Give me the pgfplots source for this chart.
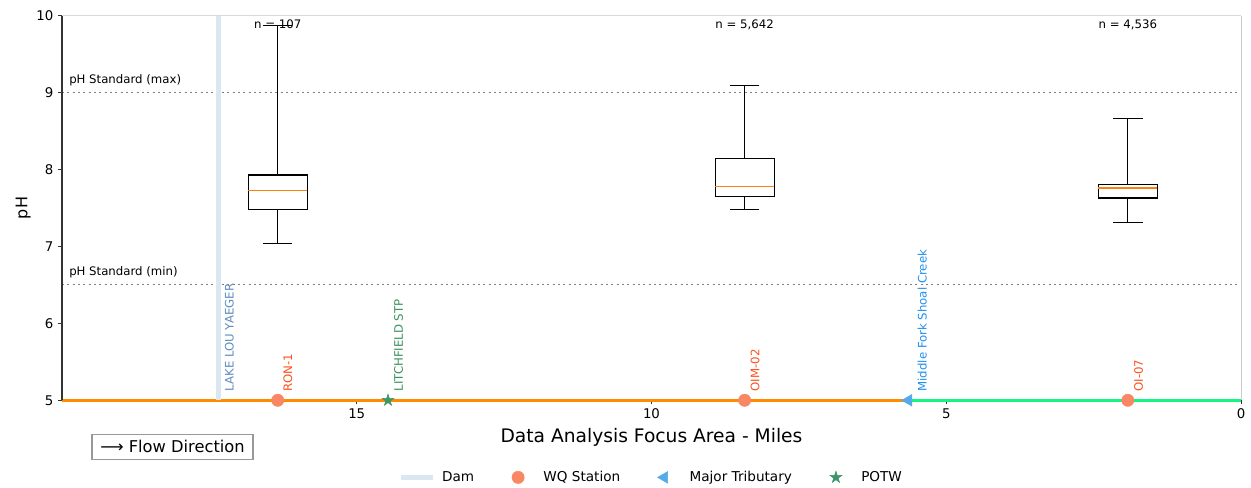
\documentclass[border=0pt]{standalone}
\usepackage{fontspec}
\setmainfont{DejaVu Sans}
\usepackage{pgfplots}
\pgfplotsset{compat=1.18}
\usepgfplotslibrary{statistics}
\definecolor{damc}{RGB}{218,230,240}
\definecolor{damtext}{RGB}{95,140,190}
\definecolor{wqfill}{RGB}{248,135,100}
\definecolor{wqtext}{RGB}{255,80,30}
\definecolor{tribc}{RGB}{85,170,235}
\definecolor{tribtext}{RGB}{30,144,240}
\definecolor{potwc}{RGB}{60,150,105}
\definecolor{potwtext}{RGB}{60,145,95}
\definecolor{riverorange}{RGB}{255,140,0}
\definecolor{rivergreen}{RGB}{20,245,130}
\definecolor{medianc}{RGB}{255,127,14}
\pgfdeclareplotmark{fstar}{%
  \pgfpathmoveto{\pgfpointpolar{90}{\pgfplotmarksize}}%
  \pgfpathlineto{\pgfpointpolar{126}{0.382\pgfplotmarksize}}%
  \pgfpathlineto{\pgfpointpolar{162}{\pgfplotmarksize}}%
  \pgfpathlineto{\pgfpointpolar{198}{0.382\pgfplotmarksize}}%
  \pgfpathlineto{\pgfpointpolar{234}{\pgfplotmarksize}}%
  \pgfpathlineto{\pgfpointpolar{270}{0.382\pgfplotmarksize}}%
  \pgfpathlineto{\pgfpointpolar{306}{\pgfplotmarksize}}%
  \pgfpathlineto{\pgfpointpolar{342}{0.382\pgfplotmarksize}}%
  \pgfpathlineto{\pgfpointpolar{18}{\pgfplotmarksize}}%
  \pgfpathlineto{\pgfpointpolar{54}{0.382\pgfplotmarksize}}%
  \pgfpathclose
  \pgfusepathqfillstroke
}
\newcommand{\legspan}{\pgfpathmoveto{\pgfpoint{0pt}{0pt}}\pgfpathlineto{\pgfpoint{29pt}{0pt}}\pgfusepath{discard}}
\pgfplotsset{
  markleg/.style={legend image code/.code={\legspan\draw[mark repeat=2,mark phase=2,##1] plot coordinates {(0pt,0pt) (12pt,0pt) (24pt,0pt)};}},
  mybox/.style={forget plot, black, line width=0.9pt},
}
\tikzset{lblfont/.style={font=\fontsize{8.8}{10}\selectfont}}
\begin{document}
\begin{tikzpicture}
\path[use as bounding box] (-46.5pt,-65.1pt) rectangle (891.75pt,300.2pt);
\begin{axis}[
  at={(0,0)}, anchor=south west,
  scale only axis, width=884.25pt, height=288.4pt,
  x dir=reverse, xmin=0, xmax=20, ymin=5, ymax=10,
  xtick={0,5,10,15}, ytick={5,6,7,8,9,10},
  tick pos=left, tick align=outside, major tick length=3pt,
  tick style={black!80, line width=0.6pt},
  axis line style={draw=none},
  clip=false,
  ticklabel style={font=\fontsize{10}{12}\selectfont},
  /pgf/number format/assume math mode=true,
  xlabel={Data Analysis Focus Area - Miles},
  ylabel={pH},
  xlabel style={font=\fontsize{14}{16}\selectfont, at={(axis description cs:0.5,-0.0712)}, anchor=north, inner sep=0pt},
  ylabel style={font=\fontsize{12}{14}\selectfont, at={(axis description cs:-0.0328,0.5)}, anchor=center, inner sep=0pt},
  legend style={at={(0.5,-0.2005)}, anchor=center, draw=none, fill=none, legend columns=4,
    font=\fontsize{10.2}{12}\selectfont,
    /tikz/every even column/.append style={column sep=19pt}},
  legend cell align=left,
]
% river lines
\addplot[forget plot, riverorange, line width=2.25pt] coordinates {(20,5) (5.64,5)};
\addplot[forget plot, rivergreen, line width=2.25pt] coordinates {(5.64,5) (0,5)};
% standards
\addplot[forget plot, gray, line width=0.8pt, dash pattern=on 1.5pt off 2.5pt] coordinates {(20,9) (0,9)};
\addplot[forget plot, gray, line width=0.8pt, dash pattern=on 1.5pt off 2.5pt] coordinates {(20,6.5) (0,6.5)};
% spines
\draw[black!15, line width=0.6pt] (axis cs:20,10) -- (axis cs:0,10);
\draw[black!20, line width=0.6pt] (axis cs:0,10) -- (axis cs:0,5);
\draw[black!80, line width=0.8pt] (axis cs:20,5) -- (axis cs:20,10);
% legend plots
\addplot[damc, line width=3.5pt, legend image code/.code={\legspan\draw[damc, line width=3.5pt] (0pt,0pt) -- (24pt,0pt);}] coordinates {(17.34,5) (17.34,10)};
\addlegendentry{Dam}
\addplot[only marks, mark=*, mark size=4.6pt, mark options={draw=wqfill, fill=wqfill}, markleg] coordinates {(16.34,5) (8.42,5) (1.92,5)};
\addlegendentry{WQ Station}
\addplot[only marks, mark=triangle*, mark size=5pt, mark options={rotate=90, draw=tribc, fill=tribc}, markleg] coordinates {(5.64,5)};
\addlegendentry{Major Tributary}
\addplot[only marks, mark=fstar, mark size=4.6pt, mark options={draw=potwc, fill=potwc}, markleg] coordinates {(14.47,5)};
\addlegendentry{POTW}
% boxplots
\addplot[mybox, boxplot prepared={draw direction=y, draw position=16.34, lower whisker=7.04, lower quartile=7.48, median=7.73, upper quartile=7.93, upper whisker=9.87, box extend=1, whisker extend=0.5, every median/.style={draw=medianc, line width=0.9pt}}] coordinates {};
\addplot[mybox, boxplot prepared={draw direction=y, draw position=8.42, lower whisker=7.48, lower quartile=7.65, median=7.78, upper quartile=8.14, upper whisker=9.09, box extend=1, whisker extend=0.5, every median/.style={draw=medianc, line width=0.9pt}}] coordinates {};
\addplot[mybox, boxplot prepared={draw direction=y, draw position=1.92, lower whisker=7.31, lower quartile=7.63, median=7.76, upper quartile=7.81, upper whisker=8.66, box extend=1, whisker extend=0.5, every median/.style={draw=medianc, line width=0.9pt}}] coordinates {};
% n labels
\node[anchor=north, inner sep=0pt, lblfont] at ([yshift=-3.2pt]axis cs:16.34,10) {n = 107};
\node[anchor=north, inner sep=0pt, lblfont] at ([yshift=-3.2pt]axis cs:8.42,10) {n = 5,642};
\node[anchor=north, inner sep=0pt, lblfont] at ([yshift=-3.2pt]axis cs:1.92,10) {n = 4,536};
% standard labels
\node[anchor=south west, inner sep=0pt, lblfont] at ([xshift=5.25pt, yshift=4.7pt]axis cs:20,9) {pH Standard (max)};
\node[anchor=south west, inner sep=0pt, lblfont] at ([xshift=5.25pt, yshift=4.7pt]axis cs:20,6.5) {pH Standard (min)};
% feature labels
\node[rotate=90, anchor=north west, inner sep=0pt, lblfont, text=damtext] at ([xshift=4.3pt, yshift=6.4pt]axis cs:17.34,5) {LAKE LOU YAEGER};
\node[rotate=90, anchor=north west, inner sep=0pt, lblfont, text=wqtext] at ([xshift=4pt, yshift=6.4pt]axis cs:16.34,5) {RON-1};
\node[rotate=90, anchor=north west, inner sep=0pt, lblfont, text=potwtext] at ([xshift=4.5pt, yshift=6.4pt]axis cs:14.47,5) {LITCHFIELD STP};
\node[rotate=90, anchor=north west, inner sep=0pt, lblfont, text=wqtext] at ([xshift=4.3pt, yshift=6.4pt]axis cs:8.42,5) {OIM-02};
\node[rotate=90, anchor=north west, inner sep=0pt, lblfont, text=tribtext] at ([xshift=6.75pt, yshift=6.4pt]axis cs:5.64,5) {Middle Fork Shoal Creek};
\node[rotate=90, anchor=north west, inner sep=0pt, lblfont, text=wqtext] at ([xshift=4.5pt, yshift=6.4pt]axis cs:1.92,5) {OI-07};
% flow direction box
\node[draw=gray!80, line width=0.8pt, fill=white, inner sep=0pt, minimum width=120.75pt, minimum height=18.75pt, font=\fontsize{12.2}{14}\selectfont, anchor=center] at ([xshift=82.9pt, yshift=-34.9pt]axis cs:20,5) {⟶ Flow Direction};
\end{axis}
\end{tikzpicture}
\end{document}
